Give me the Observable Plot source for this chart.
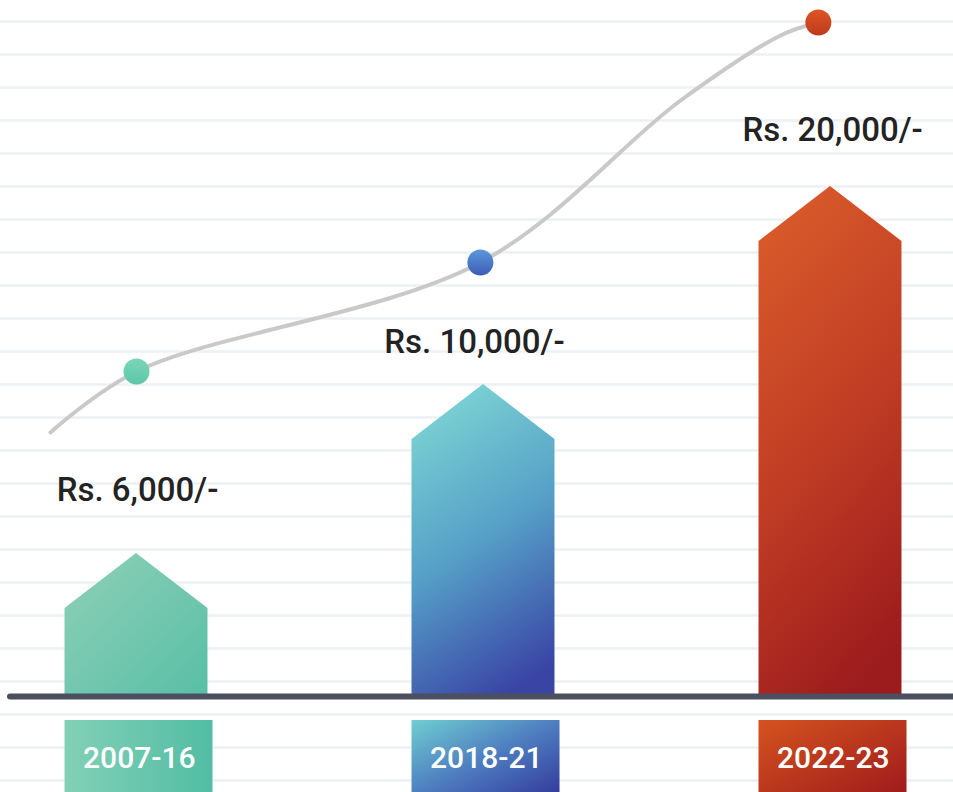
<!DOCTYPE html>
<html><head><meta charset="utf-8">
<script src="https://cdn.jsdelivr.net/npm/d3@7"></script>
<script src="https://cdn.jsdelivr.net/npm/@observablehq/plot@0.6"></script>
<style>
html,body{margin:0;padding:0;background:#fff;}
#chart svg{display:block;}
</style></head><body><div id="chart"></div>
<script>
// ---- data ----
const periods = ["2007-16", "2018-21", "2022-23"];
const amounts = [6000, 10000, 20000];
const amountLabels = ["Rs. 6,000/-", "Rs. 10,000/-", "Rs. 20,000/-"];
const barLevels = [143, 312, 510];          // height of each arrow-bar tip above the baseline
const labelShift = [0.003, -0.026, 0.006];  // amount label offset from bar centre (category units)
const labelLevels = [206, 354, 566];
const dotX = [0, 0.991, 1.965];             // trend dots
const dotLevels = [325, 434, 674];
const trendX = [-0.248, 0, 0.991, 1.568, 1.856, 1.965];   // trend curve knots
const trendLevels = [264, 325, 434, 596, 661, 674];
const gridLevels = d3.range(-84, 700, 33);   // faint ruled lines

// ---- style constants ----
const HALF = 0.206;      // half bar width (category units)
const SHOULDER = 55;     // drop from tip to shoulder
const BOX_W = 0.4265;    // label box width
const dotFills = ["url(#gDot0)", "url(#gDot1)", "url(#gDot2)"];

const marks = [
  Plot.ruleY(gridLevels, {stroke: "#edf1f4", strokeWidth: 2.5})
];

periods.forEach((p, i) => {
  const pts = [
    {x: i - HALF, y: barLevels[i] - SHOULDER},
    {x: i, y: barLevels[i]},
    {x: i + HALF, y: barLevels[i] - SHOULDER}
  ];
  marks.push(Plot.areaY(pts, {x: "x", y: "y", fill: `url(#gBar${i})`}));
  marks.push(Plot.rect([p], {x1: () => i - HALF, x2: () => i - HALF + BOX_W, y1: -24, y2: -100, fill: `url(#gBox${i})`}));
});

marks.push(
  Plot.ruleY([0], {stroke: "#4b4f5f", strokeWidth: 6, strokeLinecap: "round", insetLeft: 10}),
  Plot.line(trendX.map((x, k) => ({x, y: trendLevels[k]})), {
    x: "x", y: "y", curve: "catmull-rom", stroke: "#c9c9c9", strokeWidth: 4, strokeLinecap: "round"
  }),
  Plot.dot(periods, {
    x: (d, i) => dotX[i], y: (d, i) => dotLevels[i], r: 13,
    fill: (d, i) => dotFills[i]
  }),
  Plot.text(periods, {
    x: (d, i) => i + labelShift[i], y: (d, i) => labelLevels[i],
    text: (d, i) => amountLabels[i],
    fontSize: 33, fontWeight: 500, fill: "#232323", fontFamily: "Roboto", letterSpacing: 2.2
  }),
  Plot.text(periods, {
    x: (d, i) => i + 0.008, y: -62,
    text: d => d,
    fontSize: 30, fontWeight: 500, fill: "#ffffff", fontFamily: "Roboto", letterSpacing: 1.6
  })
);

const svg = Plot.plot({
  width: 953, height: 792,
  marginTop: 0, marginBottom: 0, marginLeft: 0, marginRight: 0,
  x: {type: "linear", domain: [0, 2], range: [136, 830], axis: null},
  y: {type: "linear", domain: [-96, 696], range: [792, 0], axis: null},
  color: {type: "identity"},
  style: {background: "#ffffff", overflow: "visible"},
  marks
});

const defs = d3.select(svg).insert("defs", ":first-child");
function lin(id, x1, y1, x2, y2, stops) {
  const g = defs.append("linearGradient").attr("id", id)
    .attr("x1", x1).attr("y1", y1).attr("x2", x2).attr("y2", y2);
  stops.forEach(([o, c]) => g.append("stop").attr("offset", o).attr("stop-color", c));
}
lin("gBar0", 0, 0, 1, 1, [[0, "#8fd0b7"], [1, "#58bfa6"]]);
lin("gBar1", 0.35, 0, 0.65, 1, [[0, "#7bd3d3"], [0.5, "#559fc7"], [1, "#3a44a5"]]);
lin("gBar2", 0.35, 0, 0.65, 1, [[0, "#d8592a"], [0.5, "#c03c24"], [1, "#9c1b1d"]]);
lin("gBox0", 0, 0, 1, 0, [[0, "#82d0b6"], [1, "#52bda4"]]);
lin("gBox1", 0, 0, 1, 1, [[0, "#6fced1"], [0.5, "#4e7ec0"], [1, "#323a9c"]]);
lin("gBox2", 0, 0, 1, 1, [[0, "#d5531f"], [1, "#9e1a1c"]]);
lin("gDot0", 0, 0, 0, 1, [[0, "#7ad6b8"], [1, "#5ec6a8"]]);
lin("gDot1", 0, 0, 0, 1, [[0, "#5b98da"], [1, "#3d5db6"]]);
lin("gDot2", 0, 0, 0, 1, [[0, "#dc5526"], [1, "#bf3a1c"]]);

document.getElementById("chart").appendChild(svg);
</script></body></html>
